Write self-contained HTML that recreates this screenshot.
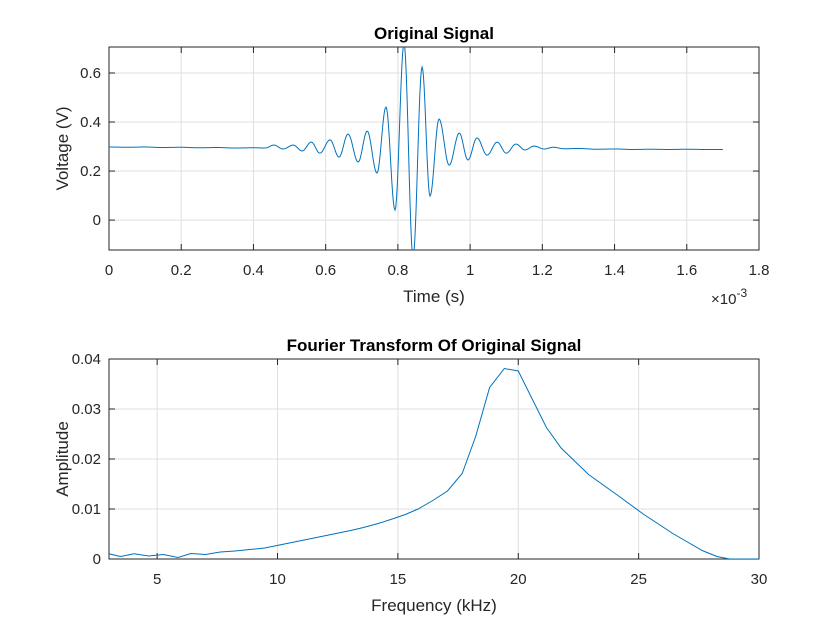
<!DOCTYPE html>
<html><head><meta charset="utf-8"><style>
body{margin:0;background:#fff}
svg{display:block;font-family:"Liberation Sans",Arial,sans-serif}
</style></head><body>
<svg id="chart" width="840" height="630" viewBox="0 0 840 630" xmlns="http://www.w3.org/2000/svg">
<rect width="840" height="630" fill="#fff"/>
<g id="top"></g>
<g id="bot"></g>
</svg>
<script>
// Original signal: extrema (time in units of 1e-3 s, voltage V)
const sigTime = [0,0.05,0.10,0.15,0.20,0.25,0.30,0.35,0.40,0.432,0.457,0.482,0.510,0.535,0.560,0.584,0.612,0.637,0.662,0.690,0.715,0.742,0.767,0.792,0.817,0.842,0.867,0.889,0.914,0.942,0.970,0.994,1.019,1.047,1.075,1.100,1.127,1.152,1.177,1.205,1.230,1.26,1.30,1.35,1.40,1.45,1.50,1.55,1.60,1.65,1.70];
const sigVolt = [0.298,0.297,0.298,0.296,0.297,0.295,0.296,0.294,0.295,0.294,0.306,0.290,0.306,0.282,0.318,0.273,0.327,0.257,0.351,0.237,0.363,0.192,0.461,0.041,0.720,-0.150,0.624,0.098,0.412,0.224,0.355,0.245,0.335,0.265,0.318,0.273,0.310,0.286,0.302,0.290,0.297,0.291,0.292,0.289,0.290,0.288,0.289,0.288,0.289,0.288,0.288];
const topXTicks = [0,0.2,0.4,0.6,0.8,1,1.2,1.4,1.6,1.8];
const topYTicks = [0,0.2,0.4,0.6];
// Fourier transform
const freqKHz = [2.99,3.48,4.04,4.65,5.26,5.87,6.40,7.01,7.62,8.23,8.85,9.46,9.98,10.59,11.21,11.82,12.43,13.04,13.57,14.18,14.70,15.31,15.84,16.45,17.06,17.67,18.23,18.81,19.42,20.0,20.61,21.17,21.78,22.92,24.14,25.19,26.42,27.64,28.25,28.78,30.0];
const amplitude = [0.00105,0.0005,0.00105,0.0006,0.0009,0.0003,0.0011,0.0009,0.0014,0.0016,0.0019,0.0022,0.0027,0.0033,0.0039,0.0045,0.0051,0.0057,0.0063,0.0071,0.0079,0.0089,0.0100,0.0117,0.0136,0.0171,0.0245,0.0343,0.0381,0.0376,0.0317,0.0263,0.0222,0.0169,0.0127,0.0090,0.0051,0.0017,0.0005,0.0,0.0];
const botXTicks = [5,10,15,20,25,30];
const botYTicks = [0,0.01,0.02,0.03,0.04];

const NS="http://www.w3.org/2000/svg";
function mk(parent,tag,attrs,text){const e=document.createElementNS(NS,tag);for(const k in attrs)e.setAttribute(k,attrs[k]);if(text!==undefined)e.textContent=text;parent.appendChild(e);return e;}

function axes(g,L,T,R,B,xmin,xmax,ymin,ymax,xt,yt,xfmt,yfmt,title,xlab,ylab){
  const sx=v=>L+(v-xmin)/(xmax-xmin)*(R-L);
  const sy=v=>B-(v-ymin)/(ymax-ymin)*(B-T);
  xt.forEach(v=>{const x=sx(v);
    const gl=mk(g,'line',{x1:x,x2:x,y1:T,y2:B,stroke:'#dfdfdf','stroke-width':1});
    
    mk(g,'line',{x1:x,x2:x,y1:B,y2:B-6,stroke:'#262626'});
    mk(g,'line',{x1:x,x2:x,y1:T,y2:T+6,stroke:'#262626'});
    const t=mk(g,'text',{x:x,y:B+25,'text-anchor':'middle','font-size':15,fill:'#262626'},xfmt(v));
    });
  yt.forEach(v=>{const y=sy(v);
    const gl=mk(g,'line',{x1:L,x2:R,y1:y,y2:y,stroke:'#dfdfdf','stroke-width':1});
    
    mk(g,'line',{x1:L,x2:L+6,y1:y,y2:y,stroke:'#262626'});
    mk(g,'line',{x1:R,x2:R-6,y1:y,y2:y,stroke:'#262626'});
    const t=mk(g,'text',{x:L-8,y:y+5,'text-anchor':'end','font-size':15,fill:'#262626'},yfmt(v));
    });
  const box=mk(g,'rect',{x:L,y:T,width:R-L,height:B-T,fill:'none',stroke:'#262626','stroke-width':1});
  
  const tt=mk(g,'text',{x:(L+R)/2,y:T-8,'text-anchor':'middle','font-size':17,'font-weight':'bold',fill:'#000'},title);
  
  const xl=mk(g,'text',{x:(L+R)/2,y:B+52,'text-anchor':'middle','font-size':17,fill:'#262626'},xlab);
  
  const cy=(T+B)/2;
  const yl=mk(g,'text',{x:0,y:0,'text-anchor':'middle','font-size':17,fill:'#262626',transform:`translate(${L-41},${cy}) rotate(-90)`},ylab);
  
  return {sx,sy};
}

// Top plot
const gt=document.getElementById('top');
const ta=axes(gt,109,47,759,250,0,1.8,-0.122,0.706,topXTicks,topYTicks,v=>String(v),v=>String(v),'Original Signal','Time (s)','Voltage (V)');
const cid='clipTop';
const cp=mk(gt,'clipPath',{id:cid});mk(cp,'rect',{x:109,y:47,width:650,height:203});
let d='';
for(let i=0;i<sigTime.length;i++){
  if(i===0){d+=`M${ta.sx(sigTime[0]).toFixed(2)},${ta.sy(sigVolt[0]).toFixed(2)}`;continue;}
  const t0=sigTime[i-1],t1=sigTime[i],v0=sigVolt[i-1],v1=sigVolt[i];
  for(let k=1;k<=12;k++){const f=k/12;const w=(1-Math.cos(Math.PI*f))/2;
    d+=`L${ta.sx(t0+(t1-t0)*f).toFixed(2)},${ta.sy(v0+(v1-v0)*w).toFixed(2)}`;}
}
const sl=mk(gt,'path',{d:d,fill:'none',stroke:'#0072BD','stroke-width':1,'clip-path':`url(#${cid})`});

const ex=mk(gt,'text',{x:711,y:304,'font-size':15,fill:'#262626'});

ex.innerHTML='×10<tspan dy="-7" font-size="12">-3</tspan>';

// Bottom plot
const gb=document.getElementById('bot');
const ba=axes(gb,109,359,759,559,3,30,0,0.04,botXTicks,botYTicks,v=>String(v),v=>String(v),'Fourier Transform Of Original Signal','Frequency (kHz)','Amplitude');
let d2='';
freqKHz.forEach((f,i)=>{d2+=(i?'L':'M')+ba.sx(f).toFixed(2)+','+ba.sy(amplitude[i]).toFixed(2);});
const cp2=mk(gb,'clipPath',{id:'clipBot'});mk(cp2,'rect',{x:109,y:359,width:650,height:200});
const fl=mk(gb,'path',{d:d2,fill:'none',stroke:'#0072BD','stroke-width':1,'clip-path':'url(#clipBot)'});

</script>
</body></html>
